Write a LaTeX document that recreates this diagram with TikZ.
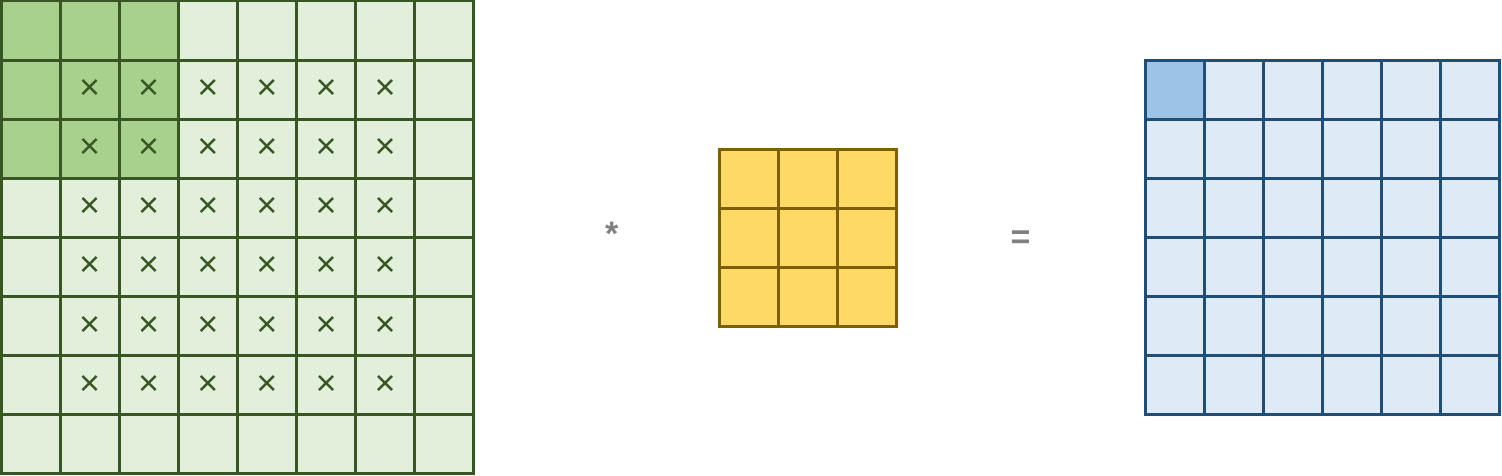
\documentclass[tikz,border=0pt]{standalone}
\usepackage{fontspec}
\setmainfont{Liberation Sans}
\definecolor{gdark}{HTML}{A9D18E}
\definecolor{glight}{HTML}{E2EFDA}
\definecolor{gline}{HTML}{375623}
\definecolor{yfill}{HTML}{FFD966}
\definecolor{yline}{HTML}{7F6000}
\definecolor{bdark}{HTML}{9DC3E6}
\definecolor{blight}{HTML}{DEEBF7}
\definecolor{bline}{HTML}{1F4E79}
\definecolor{opgray}{HTML}{808080}
\tikzset{
  cellbox/.style={draw, line width=3pt, minimum size=59.1pt, inner sep=0pt, outer sep=0pt},
  gcell/.style={cellbox, draw=gline, fill=glight},
  gcelldark/.style={cellbox, draw=gline, fill=gdark},
  ycell/.style={cellbox, draw=yline, fill=yfill},
  bcell/.style={cellbox, draw=bline, fill=blight},
  bcelldark/.style={cellbox, draw=bline, fill=bdark},
  xmark/.style={text=gline, font=\fontsize{36}{36}\selectfont, inner sep=0pt},
  optext/.style={text=opgray, font=\bfseries\fontsize{34}{34}\selectfont, inner sep=0pt}
}
\begin{document}
\begin{tikzpicture}[x=1pt, y=-1pt]
\useasboundingbox (0,0) rectangle (1502,476);
% input grid 8x8
\foreach \r in {0,...,7}{
  \foreach \c in {0,...,7}{
    \pgfmathtruncatemacro{\isdark}{(\r<3)&&(\c<3)}
    \ifnum\isdark=1
      \node[gcelldark] (in-\r-\c) at ({1+59.1*(\c+0.5)},{1+59.1*(\r+0.5)}) {};
    \else
      \node[gcell] (in-\r-\c) at ({1+59.1*(\c+0.5)},{1+59.1*(\r+0.5)}) {};
    \fi
  }
}
\foreach \r in {1,...,6}{
  \foreach \c in {1,...,6}{
    \node[xmark] (x-\r-\c) at (in-\r-\c.center) {×};
  }
}
% kernel 3x3
\foreach \r in {0,...,2}{
  \foreach \c in {0,...,2}{
    \node[ycell] (k-\r-\c) at ({719.3+59.1*(\c+0.5)},{149.3+59.1*(\r+0.5)}) {};
  }
}
% output 6x6
\foreach \r in {0,...,5}{
  \foreach \c in {0,...,5}{
    \pgfmathtruncatemacro{\isdark}{(\r==0)&&(\c==0)}
    \ifnum\isdark=1
      \node[bcelldark] (out-\r-\c) at ({1145.3+59.1*(\c+0.5)},{60.3+59.1*(\r+0.5)}) {};
    \else
      \node[bcell] (out-\r-\c) at ({1145.3+59.1*(\c+0.5)},{60.3+59.1*(\r+0.5)}) {};
    \fi
  }
}
\node[optext] (star) at (611.7,234) {*};
\node[optext] (eq) at (1020.5,239.5) {=};
\end{tikzpicture}
\end{document}
